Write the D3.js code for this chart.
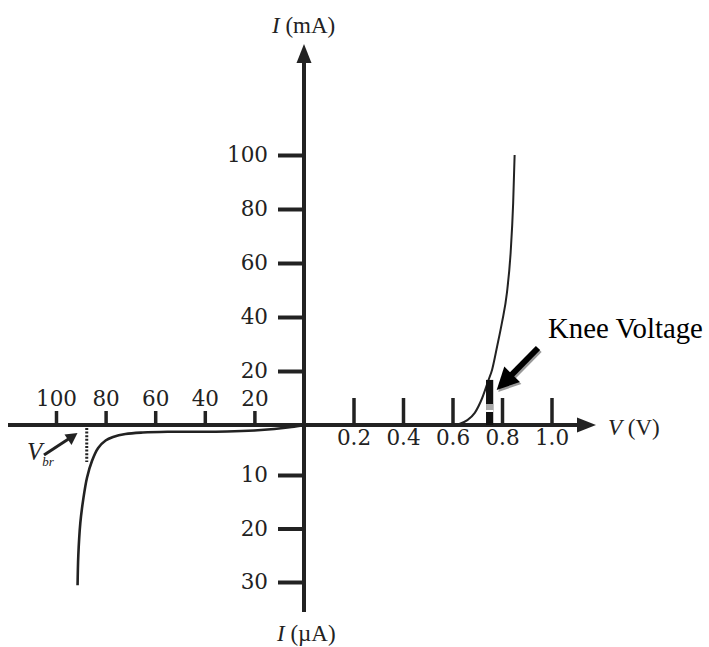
<!DOCTYPE html>
<html>
<head>
<meta charset="utf-8">
<script src="https://cdn.jsdelivr.net/npm/d3@7/dist/d3.min.js"></script>
<style>
  body { margin: 0; background: #fff; }
  svg { display: block; }
</style>
</head>
<body>
<svg width="709" height="647"></svg>
<script>
var width = 709;
var height = 647;
var serif = "'Liberation Serif', 'Times New Roman', Times, serif";
var tickFont = "'DejaVu Serif', serif";

// forward bias: V (volts) vs I (mA)
var fwdV = [0.60, 0.63, 0.66, 0.69, 0.72, 0.745, 0.76, 0.78, 0.80, 0.82, 0.835, 0.845, 0.851];
var fwdI = [0, 0.5, 1.8, 4.5, 10, 16.5, 20.5, 29, 38, 49, 64, 82, 100];

// reverse bias: |V| (volts) vs |I| (uA)
var revV = [0, 5, 12, 20, 31, 45, 55, 65, 72, 77, 80, 83, 85.5, 87.5, 89, 90.2, 91, 91.3];
var revI = [0, 0.4, 0.8, 1.1, 1.3, 1.35, 1.35, 1.5, 1.8, 2.4, 3.1, 4.6, 7.2, 10.5, 14.5, 19, 25, 30.6];

var fwdTicks = [0.2, 0.4, 0.6, 0.8, 1.0];
var revTicks = [20, 40, 60, 80, 100];
var mATicks = [20, 40, 60, 80, 100];
var uATicks = [10, 20, 30];

var kneeV = 0.75, kneeTop = 16.7;
var vbr = 87.6;

var svg = d3.select("svg");

var x0 = 304, y0 = 425;

var xPos = d3.scaleLinear().domain([0, 1]).range([x0, 551.5]);
var xNeg = d3.scaleLinear().domain([0, 100]).range([x0, 56]);
var yPos = d3.scaleLinear().domain([0, 100]).range([y0, 155]);
var yNeg = d3.scaleLinear().domain([0, 10, 30]).range([y0, 475, 582]);

// main axes lines
svg.append("line")
  .attr("x1", x0).attr("x2", x0).attr("y1", 60).attr("y2", 612)
  .attr("stroke", "#222").attr("stroke-width", 4);
svg.append("line")
  .attr("x1", 8).attr("x2", 580).attr("y1", y0).attr("y2", y0)
  .attr("stroke", "#222").attr("stroke-width", 4);
// arrow heads
svg.append("path").attr("d", "M" + x0 + ",44L" + (x0 + 7.5) + ",63L" + (x0 - 7.5) + ",63Z").attr("fill", "#222");
svg.append("path").attr("d", "M596," + y0 + "L577," + (y0 - 7.5) + "L577," + (y0 + 7.5) + "Z").attr("fill", "#222");

function clean(g) {
  g.select(".domain").remove();
  g.attr("font-family", tickFont).attr("font-size", 21.5);
  g.selectAll(".tick text").attr("fill", "#222");
  g.selectAll(".tick line").attr("stroke", "#222").attr("stroke-width", 4);
}

svg.append("g").attr("transform", "translate(" + x0 + ",0)")
  .call(d3.axisLeft(yPos).tickValues(mATicks).tickSize(26).tickPadding(10).tickFormat(d3.format("d")))
  .call(clean);
svg.append("g").attr("transform", "translate(" + x0 + ",0)")
  .call(d3.axisLeft(yNeg).tickValues(uATicks).tickSize(26).tickPadding(10).tickFormat(d3.format("d")))
  .call(clean);
svg.append("g").attr("transform", "translate(0," + y0 + ")")
  .call(d3.axisBottom(xPos).tickValues(fwdTicks).tickSize(-27).tickPadding(5).tickFormat(d3.format(".1f")))
  .call(clean)
  .selectAll(".tick line").attr("stroke-width", 3.5);
svg.append("g").attr("transform", "translate(0," + y0 + ")")
  .call(d3.axisTop(xNeg).tickValues(revTicks).tickSize(14).tickPadding(5).tickFormat(d3.format("d")))
  .call(clean)
  .selectAll(".tick line").attr("stroke-width", 3.5);

// curves
var fwdLine = d3.line()
  .x(function (d) { return xPos(d[0]); })
  .y(function (d) { return yPos(d[1]); })
  .curve(d3.curveMonotoneX);
svg.append("path")
  .datum(d3.zip(fwdV, fwdI))
  .attr("d", fwdLine)
  .attr("fill", "none").attr("stroke", "#222").attr("stroke-width", 2);

var revLine = d3.line()
  .x(function (d) { return xNeg(d[0]); })
  .y(function (d) { return yNeg(d[1]); })
  .curve(d3.curveCatmullRom);
svg.append("path")
  .datum(d3.zip(revV, revI))
  .attr("d", revLine)
  .attr("fill", "none").attr("stroke", "#222").attr("stroke-width", 2.6);

// breakdown voltage marker
svg.append("line")
  .attr("x1", xNeg(vbr)).attr("x2", xNeg(vbr))
  .attr("y1", yNeg(0.6)).attr("y2", yNeg(7.4))
  .attr("stroke", "#222").attr("stroke-width", 3)
  .attr("stroke-dasharray", "2,1.6");
svg.append("line")
  .attr("x1", 44).attr("y1", 455).attr("x2", 70).attr("y2", 438)
  .attr("stroke", "#222").attr("stroke-width", 3);
svg.append("path").attr("d", "M77.5,433L64.5,434.5L71.5,445Z").attr("fill", "#222");
var vb = svg.append("text").attr("x", 27).attr("y", 460)
  .attr("font-family", serif).attr("font-size", 25).attr("font-style", "italic").attr("fill", "#222");
vb.append("tspan").text("V");
vb.append("tspan").attr("font-size", 13).attr("dy", 6).text("br");

// knee voltage bar
var kx = xPos(kneeV);
svg.append("rect").attr("x", kx - 3.6).attr("width", 7.2)
  .attr("y", yPos(kneeTop)).attr("height", y0 - yPos(kneeTop)).attr("fill", "#111");
svg.append("rect").attr("x", kx - 3.6).attr("width", 7.2)
  .attr("y", 404).attr("height", 6).attr("fill", "#aaa");
svg.append("rect").attr("x", kx - 3.6).attr("width", 7.2)
  .attr("y", 410).attr("height", 2).attr("fill", "#fff");

// knee arrow with shadow
function kneeArrow(dx, dy, col) {
  var g = svg.append("g").attr("transform", "translate(" + dx + "," + dy + ")");
  g.append("line").attr("x1", 538).attr("y1", 348).attr("x2", 510).attr("y2", 376.5)
    .attr("stroke", col).attr("stroke-width", 6);
  g.append("path").attr("d", "M496.7,390L504.3,366.6L519.9,382Z").attr("fill", col);
}
kneeArrow(1.5, 2, "#999");
kneeArrow(0, 0, "#000");

svg.append("text").attr("x", 548).attr("y", 338)
  .attr("font-family", serif).attr("font-size", 28.8).attr("fill", "#000").text("Knee Voltage");

// axis titles
function title(x, y, v, unit) {
  var t = svg.append("text").attr("x", x).attr("y", y)
    .attr("font-family", serif).attr("font-size", 23).attr("fill", "#222");
  t.append("tspan").attr("font-style", "italic").text(v);
  t.append("tspan").text(" " + unit);
}
title(272, 33, "I", "(mA)");
title(608, 435, "V", "(V)");
title(277, 641, "I", "(\u00B5A)");
</script>
</body>
</html>
